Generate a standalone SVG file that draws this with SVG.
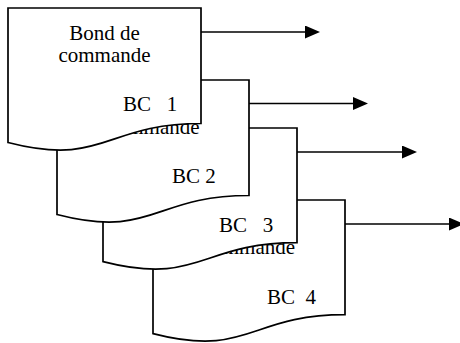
<svg xmlns="http://www.w3.org/2000/svg" width="460" height="343" viewBox="0 0 460 343">
  <defs>
    <marker id="head" markerWidth="15" markerHeight="13" refX="0" refY="6.5" orient="auto" markerUnits="userSpaceOnUse">
      <path d="M0,0 L15,6.5 L0,13 Z" fill="#000"/>
    </marker>
  </defs>
  <style>
    .doc { fill: #fff; stroke: #000; stroke-width: 1.7; stroke-linejoin: miter; }
    .txt { font-family: "Liberation Serif", "Times New Roman", serif; font-size: 21px; fill: #000; }
    .mid { text-anchor: middle; }
    .flow { stroke: #000; stroke-width: 1.7; fill: none; marker-end: url(#head); }
  </style>

  <!-- stacked order documents, back to front -->
  <g id="bc4">
    <path class="doc" d="M153,200 H345 V314.7 C249,314.7 249,358.3 153,333.6 Z"/>
    <text class="txt mid" x="249" y="254">commande</text>
    <text class="txt" x="267" y="304" xml:space="preserve">BC  4</text>
  </g>
  <g id="bc3">
    <path class="doc" d="M103,128 H297 V242.7 C200,242.7 200,286.3 103,261.6 Z"/>
    <text class="txt" x="219" y="232" xml:space="preserve">BC   3</text>
  </g>
  <g id="bc2">
    <path class="doc" d="M57,80 H249 V195.5 C153,195.5 153,239.4 57,214.5 Z"/>
    <text class="txt mid" x="153.5" y="134">commande</text>
    <text class="txt" x="172" y="183" xml:space="preserve">BC 2</text>
  </g>
  <g id="bc1">
    <path class="doc" d="M8,8 H201 V123.5 C104.5,123.5 104.5,167.4 8,142.5 Z"/>
    <text class="txt mid" x="104.5" y="40">Bond de</text>
    <text class="txt mid" x="104.5" y="62">commande</text>
    <text class="txt" x="123" y="111" xml:space="preserve">BC   1</text>
  </g>

  <!-- outgoing flows -->
  <g id="connectors">
    <line class="flow" x1="201" y1="32" x2="305" y2="32"/>
    <line class="flow" x1="249" y1="103.5" x2="353" y2="103.5"/>
    <line class="flow" x1="297" y1="152" x2="402" y2="152"/>
    <line class="flow" x1="345" y1="224" x2="449" y2="224"/>
  </g>
</svg>
